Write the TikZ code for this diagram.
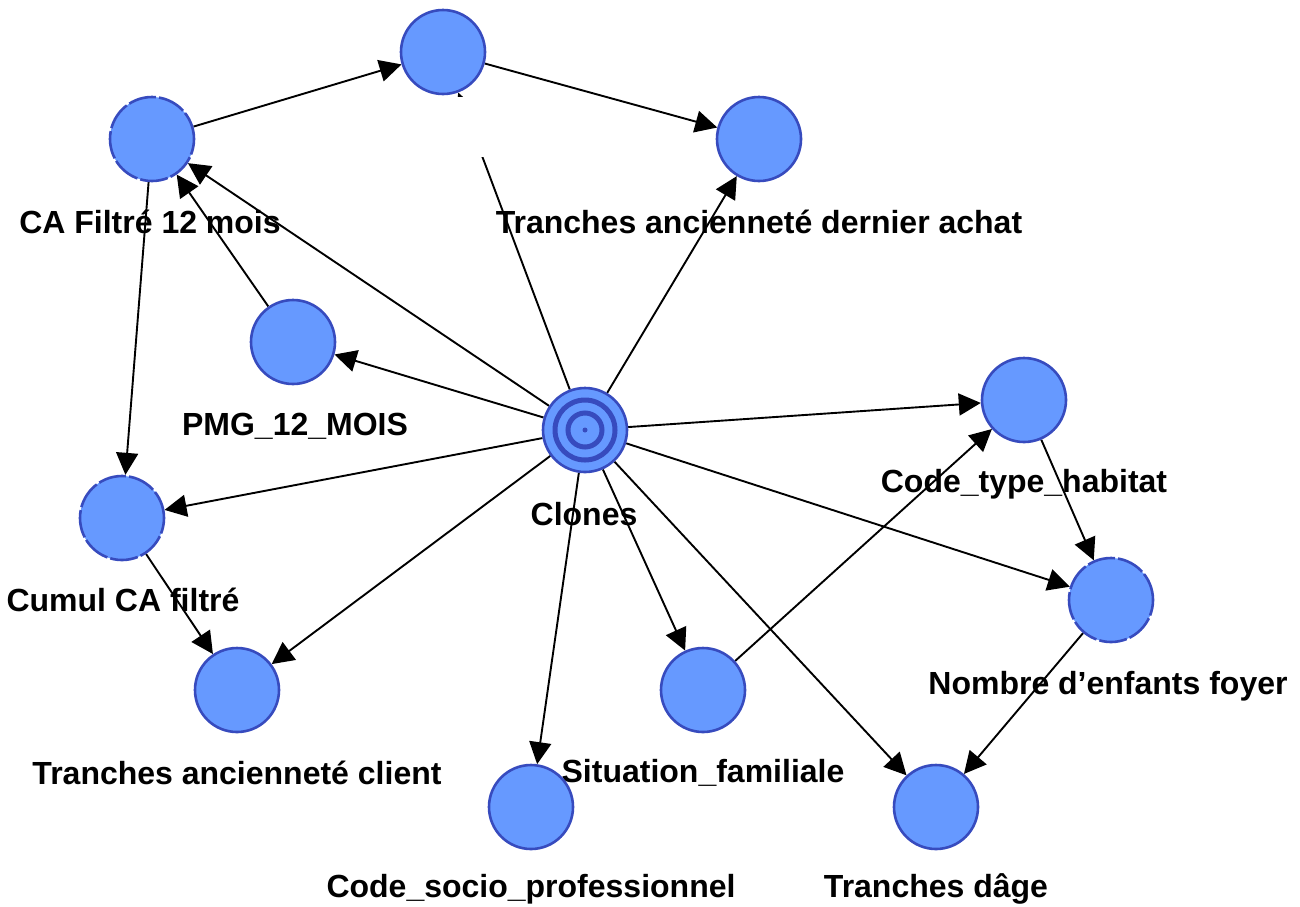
\documentclass[tikz,border=0pt]{standalone}
\usepackage{fontspec}
\setmainfont{Liberation Sans}
\usetikzlibrary{arrows.meta}
\definecolor{nfill}{RGB}{102,153,255}
\definecolor{nborder}{RGB}{55,75,190}
\begin{document}
\begin{tikzpicture}[x=1pt,y=-1pt,
  vnode/.style={circle,draw=nborder,fill=nfill,line width=2.6pt,minimum size=84pt,inner sep=0pt},
  dnode/.style={vnode,dash pattern=on 28pt off 3pt},
  lbl/.style={font=\bfseries\fontsize{32}{36}\selectfont,inner sep=0pt,anchor=center},
  edge/.style={draw=black,line width=1.9pt,-{Triangle[length=22pt,width=22pt]}}]
\useasboundingbox (0,0) rectangle (1300,906);
% labels
\node[lbl] (lCA) at (150,222) {CA Filtré 12 mois};
\node[lbl] (lTD) at (759,222) {Tranches ancienneté dernier achat};
\node[lbl] (lPMG) at (295,426) {PMG\_12\_MOIS};
\node[lbl] (lCl) at (584,514) {Clones};
\node[lbl] (lCTH) at (1024,484) {Code\_type\_habitat};
\node[lbl] (lCum) at (123,600) {Cumul CA filtré};
\node[lbl] (lNE) at (1108,686) {Nombre d’enfants foyer};
\node[lbl] (lTAC) at (237,773) {Tranches ancienneté client};
\node[lbl] (lSF) at (703,773) {Situation\_familiale};
\node[lbl] (lCSP) at (531,889) {Code\_socio\_professionnel};
\node[lbl] (lTDA) at (936,889) {Tranches dâge};
% node positions (invisible anchors for edges)
\node[vnode,draw=none,fill=none] (T) at (443,52) {};
\node[vnode,draw=none,fill=none] (CA) at (152,139) {};
\node[vnode,draw=none,fill=none] (TD) at (759,139) {};
\node[vnode,draw=none,fill=none] (PMG) at (293,342) {};
\node[vnode,draw=none,fill=none] (Cl) at (585,430) {};
\node[vnode,draw=none,fill=none] (CTH) at (1024,400) {};
\node[vnode,draw=none,fill=none] (Cum) at (122,518) {};
\node[vnode,draw=none,fill=none] (NE) at (1111,600) {};
\node[vnode,draw=none,fill=none] (TAC) at (237,690) {};
\node[vnode,draw=none,fill=none] (SF) at (703,690) {};
\node[vnode,draw=none,fill=none] (CSP) at (531,807) {};
\node[vnode,draw=none,fill=none] (TDA) at (936,807) {};
% edges
\path[edge] (CA) -- (T);
\path[edge] (T) -- (TD);
\path[edge] (Cl) -- (T);
\path[edge] (Cl) -- (TD);
\path[edge] (Cl) -- (CA);
\path[edge] (PMG) -- (CA);
\path[edge] (Cl) -- (PMG);
\path[edge] (CA) -- (Cum);
\path[edge] (Cl) -- (Cum);
\path[edge] (Cl) -- (CTH);
\path[edge] (Cl) -- (NE);
\path[edge] (CTH) -- (NE);
\path[edge] (Cum) -- (TAC);
\path[edge] (Cl) -- (TAC);
\path[edge] (Cl) -- (SF);
\path[edge] (Cl) -- (CSP);
\path[edge] (Cl) -- (TDA);
\path[edge] (NE) -- (TDA);
\path[edge] (SF) -- (CTH);
% hidden (white) label of the top node
\node[fill=white,minimum width=190pt,minimum height=60pt,inner sep=0pt] (lT) at (443,127) {};
% visible circles
\node[vnode] at (T) {};
\node[dnode] at (CA) {};
\node[vnode] at (TD) {};
\node[vnode] at (PMG) {};
\node[vnode] at (CTH) {};
\node[dnode] at (Cum) {};
\node[dnode] at (NE) {};
\node[vnode] at (TAC) {};
\node[vnode] at (SF) {};
\node[vnode] at (CSP) {};
\node[vnode] at (TDA) {};
% Clones target
\node[vnode] at (Cl) {};
\draw[nborder,line width=5pt] (Cl) circle[radius=30pt];
\draw[nborder,line width=5pt] (Cl) circle[radius=17pt];
\fill[nborder] (Cl) circle[radius=2.5pt];
\end{tikzpicture}
\end{document}
